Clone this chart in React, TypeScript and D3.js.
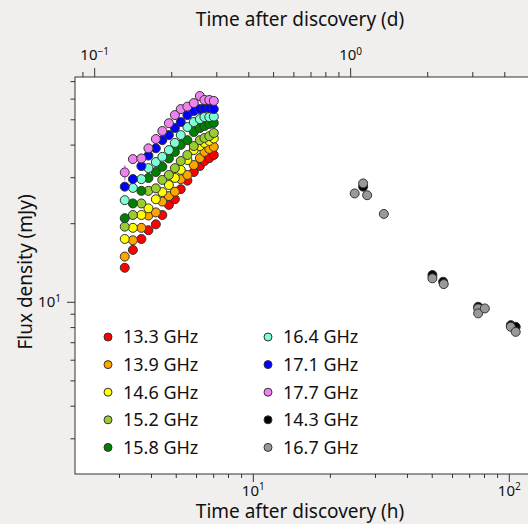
import { useEffect, useRef } from "react";
import * as d3 from "d3";

// early epoch times (hours) shared by the 8 sub-band series
const earlyHours = [3.16, 3.4, 3.67, 3.91, 4.18, 4.43, 4.7, 4.96, 5.23, 5.55, 5.88, 6.21, 6.47, 6.76, 7.04];

const flux133 = [13.5, 15.8, 17.4, 18.8, 19.8, 21.5, 23.5, 24.7, 27.0, 29.1, 31.4, 33.1, 34.6, 35.5, 36.5];
const flux139 = [14.9, 17.2, 19.2, 21.4, 22.0, 24.2, 25.4, 26.4, 29.5, 30.6, 33.4, 35.5, 37.5, 38.5, 39.2];
const flux146 = [17.4, 19.2, 21.5, 22.8, 24.7, 26.3, 28.0, 29.8, 32.0, 34.9, 38.1, 39.5, 40.6, 41.3, 42.2];
const flux152 = [19.4, 21.5, 23.8, 26.6, 27.2, 29.3, 30.6, 32.5, 34.6, 36.5, 39.5, 41.6, 42.4, 43.1, 44.3];
const flux158 = [20.9, 23.8, 26.6, 29.8, 31.4, 32.9, 35.4, 37.5, 39.9, 41.6, 44.7, 46.3, 47.1, 48.0, 48.4];
const flux164 = [24.5, 27.3, 29.5, 32.5, 34.3, 35.9, 38.1, 40.6, 43.5, 46.7, 48.8, 50.1, 51.0, 51.0, 51.2];
const flux171 = [27.6, 29.5, 33.1, 36.3, 38.7, 41.6, 43.5, 46.3, 48.8, 51.9, 53.8, 54.7, 55.2, 55.2, 54.7];
const flux177 = [31.3, 35.2, 35.4, 38.7, 42.0, 45.1, 48.3, 51.9, 54.7, 55.9, 57.7, 61.4, 59.3, 59.3, 58.8];
const err177 = [2.1, 0, 0, 0, 0, 0, 0, 0, 0, 0, 0, 0, 0, 0, 0];

// later epochs
const hours143 = [26.97, 50.3, 55.4, 75.9, 101.8, 106.4];
const flux143 = [27.6, 12.66, 11.93, 9.57, 8.14, 8.02];
const hours167 = [25.0, 26.97, 27.96, 32.5, 50.3, 55.7, 75.9, 75.9, 80.6, 101.8, 106.4];
const flux167 = [26.0, 28.4, 25.6, 21.7, 12.3, 11.69, 9.43, 9.03, 9.43, 8.02, 7.67];

const earlyLabels = ["13.3 GHz", "13.9 GHz", "14.6 GHz", "15.2 GHz", "15.8 GHz", "16.4 GHz", "17.1 GHz", "17.7 GHz"];
const earlyColors = ["#ff0000", "#ffa500", "#ffff00", "#9acd32", "#008000", "#7fffd4", "#0000ff", "#ee82ee"];
const earlyFlux = [flux133, flux139, flux146, flux152, flux158, flux164, flux171, flux177];

const lateLabels = ["14.3 GHz", "16.7 GHz"];
const lateColors = ["#000000", "#999999"];

const legendLabels = [...earlyLabels, ...lateLabels];
const legendColors = [...earlyColors, ...lateColors];

export default function App() {
    const ref = useRef<HTMLDivElement | null>(null);

    useEffect(() => {
        document.body.style.margin = "0";
        document.body.style.background = "#f0efed";
        const width = 528;
        const height = 524;
        const margin = { top: 77, right: -2, bottom: 50, left: 75 };
        const font = "'Noto Sans', 'Open Sans', sans-serif";

        const x = d3.scaleLog().domain([2.02, 121]).range([margin.left, width - margin.right]);
        const xDays = d3.scaleLog().domain([2.02 / 24, 121 / 24]).range([margin.left, width - margin.right]);
        const y = d3.scaleLog().domain([2.19, 72.6]).range([height - margin.bottom, margin.top]);

        d3.select(ref.current).selectAll("*").remove();
        const svg = d3
            .select(ref.current)
            .append("svg")
            .attr("width", width)
            .attr("height", height)
            .style("display", "block")
            .style("font-family", font);

        svg.append("rect").attr("width", width).attr("height", height).attr("fill", "#f0efed");
        svg.append("rect")
            .attr("x", margin.left)
            .attr("y", margin.top)
            .attr("width", width - margin.right - margin.left)
            .attr("height", height - margin.bottom - margin.top)
            .attr("fill", "#ffffff")
            .attr("stroke", "#333")
            .attr("stroke-width", 1);

        const inRange = (s: any) => (v: number) => {
            const [a, b] = s.domain();
            return v >= a && v <= b;
        };
        const decadeTicks = (lo: number, hi: number) => {
            const out: number[] = [];
            for (let e = lo; e <= hi; e++) for (let k = 2; k <= 9; k++) out.push(k * Math.pow(10, e));
            return out;
        };

        // superscript labels like 10^1
        const powLabel = (sel: any) => {
            sel.selectAll(".tick text").each(function (this: any, d: any) {
                const t = d3.select(this);
                const e = Math.round(Math.log10(d));
                t.text(null);
                t.append("tspan").text("10");
                t.append("tspan").attr("dy", "-0.55em").attr("font-size", "10px").text(e < 0 ? "\u2212" + -e : String(e));
            });
        };

        const styleAxis = (g: any) => {
            g.select(".domain").remove();
            g.selectAll(".tick line").attr("stroke", "#333");
            g.selectAll(".tick text").attr("fill", "#111").attr("font-size", "15px").attr("font-family", font);
        };

        // bottom axis (hours)
        const by = height - margin.bottom;
        svg.append("g")
            .attr("transform", `translate(0,${by})`)
            .call(d3.axisBottom(x).tickValues(decadeTicks(0, 2).filter(inRange(x))).tickSize(4).tickFormat(() => ""))
            .call(styleAxis);
        svg.append("g")
            .attr("transform", `translate(0,${by})`)
            .call(d3.axisBottom(x).tickValues([10, 100]).tickSize(8).tickPadding(3))
            .call(styleAxis)
            .call(powLabel);

        // top axis (days)
        svg.append("g")
            .attr("transform", `translate(0,${margin.top})`)
            .call(d3.axisTop(xDays).tickValues(decadeTicks(-2, 0).filter(inRange(xDays))).tickSize(5).tickFormat(() => ""))
            .call(styleAxis);
        svg.append("g")
            .attr("transform", `translate(0,${margin.top})`)
            .call(d3.axisTop(xDays).tickValues([0.1, 1]).tickSize(9).tickPadding(8))
            .call(styleAxis)
            .call(powLabel);

        // left axis (flux)
        svg.append("g")
            .attr("transform", `translate(${margin.left},0)`)
            .call(d3.axisLeft(y).tickValues(decadeTicks(0, 1).filter(inRange(y))).tickSize(4.5).tickFormat(() => ""))
            .call(styleAxis);
        svg.append("g")
            .attr("transform", `translate(${margin.left},0)`)
            .call(d3.axisLeft(y).tickValues([10]).tickSize(8).tickPadding(6))
            .call(styleAxis)
            .call(powLabel);

        // axis titles
        svg.append("text")
            .attr("x", 300)
            .attr("y", 26)
            .attr("text-anchor", "middle")
            .attr("font-size", "19px")
            .attr("fill", "#111")
            .text("Time after discovery (d)");
        svg.append("text")
            .attr("x", 300)
            .attr("y", 518)
            .attr("text-anchor", "middle")
            .attr("font-size", "19px")
            .attr("fill", "#111")
            .text("Time after discovery (h)");
        svg.append("text")
            .attr("transform", "rotate(-90)")
            .attr("x", -272)
            .attr("y", 32)
            .attr("text-anchor", "middle")
            .attr("font-size", "19px")
            .attr("fill", "#111")
            .text("Flux density (mJy)");

        const plot = svg.append("g");

        // error bars
        earlyFlux.forEach((fl, i) => {
            if (i !== 7) return;
            plot.append("g")
                .selectAll("line")
                .data(earlyHours.map((h, j) => ({ h, f: fl[j], e: err177[j] })).filter((d) => d.e > 0))
                .join("line")
                .attr("x1", (d) => x(d.h))
                .attr("x2", (d) => x(d.h))
                .attr("y1", (d) => y(d.f - d.e))
                .attr("y2", (d) => y(d.f + d.e))
                .attr("stroke", earlyColors[i])
                .attr("stroke-width", 1.5);
        });

        const r = 4.5;
        earlyFlux.forEach((fl, i) => {
            plot.append("g")
                .selectAll("circle")
                .data(earlyHours.map((h, j) => ({ h, f: fl[j] })))
                .join("circle")
                .attr("cx", (d) => x(d.h))
                .attr("cy", (d) => y(d.f))
                .attr("r", r)
                .attr("fill", earlyColors[i])
                .attr("stroke", "#333")
                .attr("stroke-width", 1);
        });

        const late = [
            { hours: hours143, flux: flux143, color: lateColors[0] },
            { hours: hours167, flux: flux167, color: lateColors[1] },
        ];
        late.forEach((s) => {
            plot.append("g")
                .selectAll("circle")
                .data(s.hours.map((h, j) => ({ h, f: s.flux[j] })))
                .join("circle")
                .attr("cx", (d) => x(d.h))
                .attr("cy", (d) => y(d.f))
                .attr("r", r)
                .attr("fill", s.color)
                .attr("stroke", "#333")
                .attr("stroke-width", 1);
        });

        // legend, two columns of five
        const legend = svg.append("g");
        legendLabels.forEach((lab, i) => {
            const col = Math.floor(i / 5);
            const row = i % 5;
            const lx = 108 + col * 160;
            const ly = 337 + row * 27.6;
            legend.append("circle")
                .attr("cx", lx)
                .attr("cy", ly)
                .attr("r", 4)
                .attr("fill", legendColors[i])
                .attr("stroke", "#333")
                .attr("stroke-width", 1);
            legend.append("text")
                .attr("x", lx + 15)
                .attr("y", ly)
                .attr("dy", "0.36em")
                .attr("font-size", "18px")
                .attr("fill", "#111")
                .text(lab);
        });
    }, []);

    return <div ref={ref} />;
}
